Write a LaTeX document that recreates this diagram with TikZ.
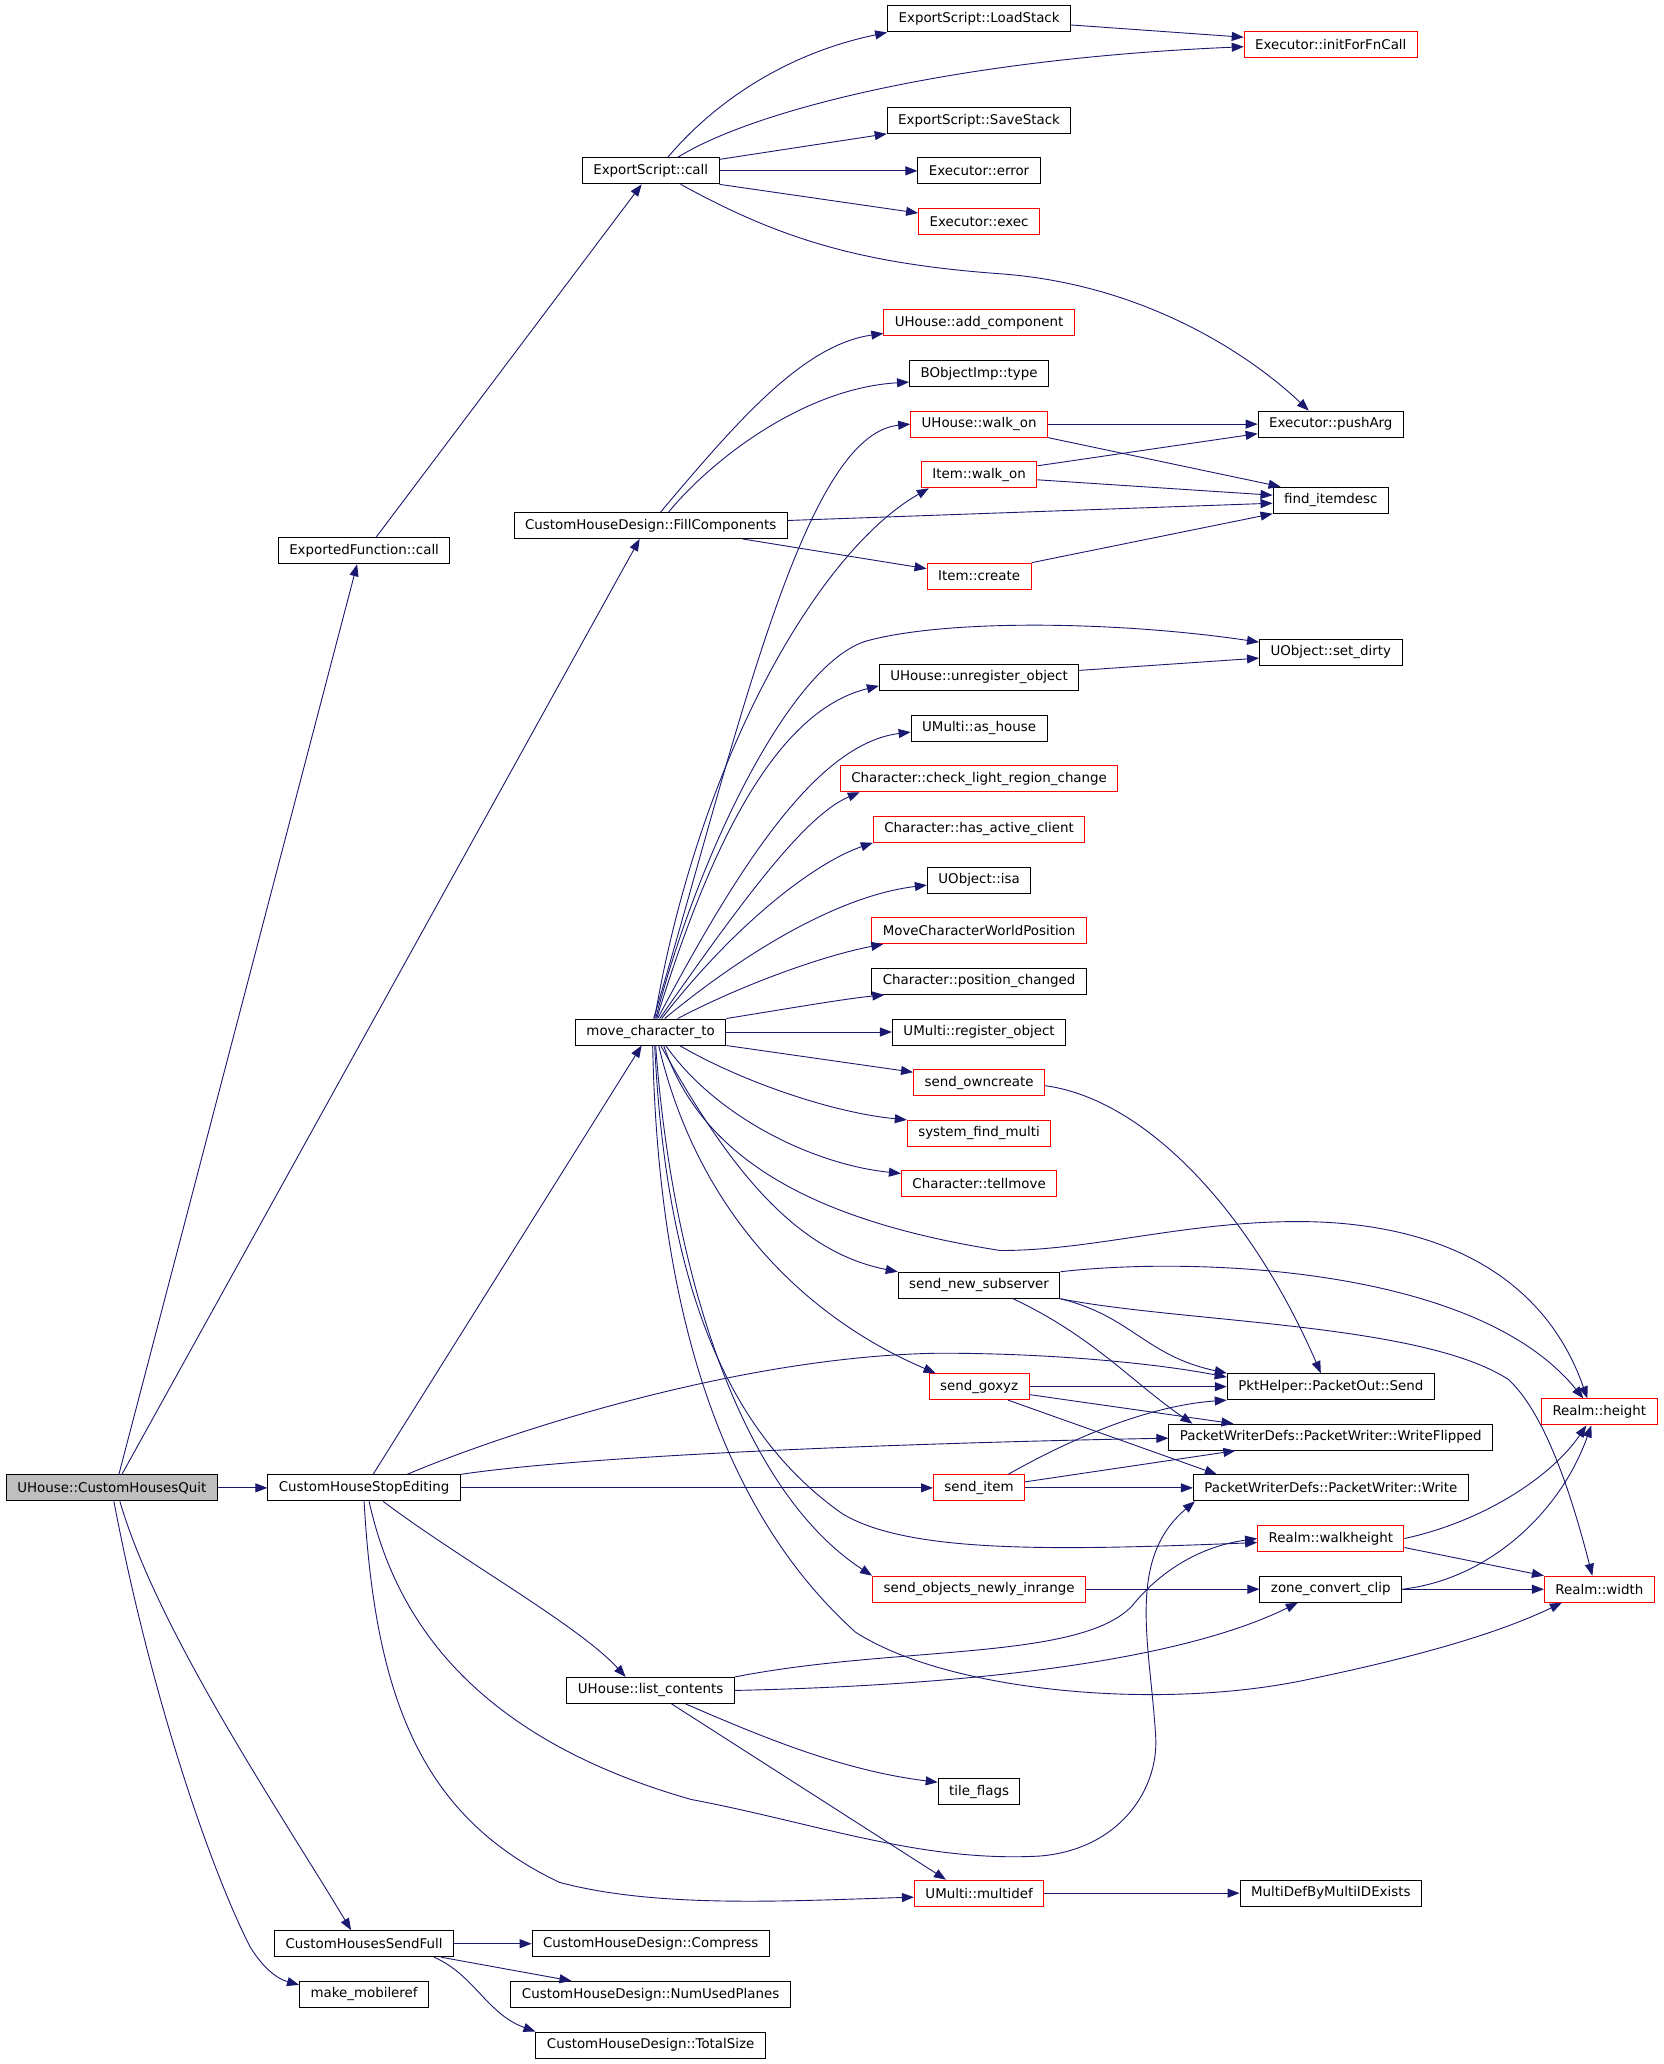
\documentclass[tikz,border=0pt]{standalone}
\usepackage{fontspec}
\setmainfont{DejaVu Sans}
\usetikzlibrary{arrows.meta}
\definecolor{edgeblue}{HTML}{191970}
\definecolor{rootgray}{HTML}{BFBFBF}
\tikzset{
  fn/.style={draw=black, line width=1pt, rectangle, minimum height=26pt, inner xsep=11pt, inner ysep=0pt, font=\fontsize{13.4}{16}\selectfont},
  fnred/.style={fn, draw=red},
  edge/.style={draw=edgeblue, line width=0.9pt, -{Triangle[length=12pt,width=9pt]}}
}
\begin{document}
\begin{tikzpicture}[x=1.3165pt, y=-1.3165pt]
\path[use as bounding box, fill=white] (0,0) rectangle (1264,1568); % canvas

% first and second columns
\node[fn, fill=rootgray] (quit) at (85,1130.3) {UHouse::CustomHousesQuit}; % root
\node[fn] (expfn) at (276.6,418.4) {ExportedFunction::call};
\node[fn] (stopedit) at (276.6,1130.3) {CustomHouseStopEditing};
\node[fn] (sendfull) at (276.6,1476.6) {CustomHousesSendFull};
\node[fn] (mobileref) at (276.6,1515.1) {make\_mobileref};

% third column
\node[fn] (escall) at (494.3,129.8) {ExportScript::call};
\node[fn] (fillcomp) at (494.3,399.2) {CustomHouseDesign::FillComponents};
\node[fn] (mct) at (494.3,784) {move\_character\_to};
\node[fn] (listc) at (494.3,1284.2) {UHouse::list\_contents};
\node[fn] (compress) at (494.3,1476.6) {CustomHouseDesign::Compress};
\node[fn] (numplanes) at (494.3,1515.1) {CustomHouseDesign::NumUsedPlanes};
\node[fn] (totalsize) at (494.3,1553.6) {CustomHouseDesign::TotalSize};

% fourth column
\node[fn] (loadstack) at (743.8,14.4) {ExportScript::LoadStack};
\node[fn] (savestack) at (743.8,91.4) {ExportScript::SaveStack};
\node[fn] (exerror) at (743.8,129.8) {Executor::error};
\node[fnred] (exexec) at (743.8,168.3) {Executor::exec};
\node[fnred] (addcomp) at (743.8,245.3) {UHouse::add\_component};
\node[fn] (bobjtype) at (743.8,283.8) {BObjectImp::type};
\node[fnred] (hwalkon) at (743.8,322.2) {UHouse::walk\_on};
\node[fnred] (iwalkon) at (743.8,360.7) {Item::walk\_on};
\node[fnred] (icreate) at (743.8,437.7) {Item::create};
\node[fn] (unreg) at (743.8,514.6) {UHouse::unregister\_object};
\node[fn] (ashouse) at (743.8,553.1) {UMulti::as\_house};
\node[fnred] (checklight) at (743.8,591.6) {Character::check\_light\_region\_change};
\node[fnred] (hasclient) at (743.8,630) {Character::has\_active\_client};
\node[fn] (isa) at (743.8,668.6) {UObject::isa};
\node[fnred] (movepos) at (743.8,707) {MoveCharacterWorldPosition};
\node[fn] (poschanged) at (743.8,745.5) {Character::position\_changed};
\node[fn] (regobj) at (743.8,784) {UMulti::register\_object};
\node[fnred] (owncreate) at (743.8,822.5) {send\_owncreate};
\node[fnred] (findmulti) at (743.8,861) {system\_find\_multi};
\node[fnred] (tellmove) at (743.8,899.4) {Character::tellmove};
\node[fn] (subserver) at (743.8,976.4) {send\_new\_subserver};
\node[fnred] (goxyz) at (743.8,1053.4) {send\_goxyz};
\node[fnred] (senditem) at (743.8,1130.3) {send\_item};
\node[fnred] (newlyinrange) at (743.8,1207.3) {send\_objects\_newly\_inrange};
\node[fn] (tileflags) at (743.8,1361.2) {tile\_flags};
\node[fnred] (multidef) at (743.8,1438.2) {UMulti::multidef};

% fifth and sixth columns
\node[fnred] (initfn) at (1011,33.6) {Executor::initForFnCall};
\node[fn] (pusharg) at (1011,322.2) {Executor::pushArg};
\node[fn] (itemdesc) at (1011,380) {find\_itemdesc};
\node[fn] (setdirty) at (1011,495.4) {UObject::set\_dirty};
\node[fn] (pktsend) at (1011,1053.4) {PktHelper::PacketOut::Send};
\node[fn] (writeflipped) at (1011,1091.8) {PacketWriterDefs::PacketWriter::WriteFlipped};
\node[fn] (pwrite) at (1011,1130.3) {PacketWriterDefs::PacketWriter::Write};
\node[fnred] (walkheight) at (1011,1168.8) {Realm::walkheight};
\node[fn] (zoneclip) at (1011,1207.3) {zone\_convert\_clip};
\node[fn] (multiexists) at (1011,1438.2) {MultiDefByMultiIDExists};
\node[fnred] (rheight) at (1215,1072.6) {Realm::height};
\node[fnred] (rwidth) at (1215,1207.3) {Realm::width};

% calls of the root
\draw[edge] ([xshift=7pt]quit.north) -- ([xshift=-7pt]expfn.south);
\draw[edge] ([xshift=10pt]quit.north) -- ([xshift=-11pt]fillcomp.south);
\draw[edge] (quit.east) -- (stopedit.west);
\draw[edge] ([xshift=8pt]quit.south) .. controls (120,1240) and (215,1380) .. ([xshift=-13pt]sendfull.north);
\draw[edge] ([xshift=2pt]quit.south) .. controls (115,1290) and (160,1420) .. (190,1479) .. controls (200,1495) and (210,1503) .. ([yshift=-4pt]mobileref.north west);

% script calls
\draw[edge] ([xshift=12pt]expfn.north) -- ([xshift=-9pt]escall.south);
\draw[edge] ([xshift=17pt]escall.north) .. controls (545,75) and (600,40) .. (loadstack.south west);
\draw[edge] ([xshift=27pt]escall.north) .. controls (570,85) and (720,45) .. ([yshift=-2.5pt]initfn.west);
\draw[edge] ([yshift=-2pt]escall.north east) -- (savestack.south west);
\draw[edge] (escall.east) -- (exerror.west);
\draw[edge] (escall.south east) -- ([yshift=-5pt]exexec.north west);
\draw[edge] ([xshift=30pt]escall.south) .. controls (590,180) and (650,200) .. (760,208) .. controls (870,216) and (950,270) .. ([xshift=-22pt]pusharg.north);
\draw[edge] ([yshift=-6pt]loadstack.east) -- ([yshift=7pt]initfn.west);

% components
\draw[edge] ([xshift=10pt]fillcomp.north) .. controls (560,320) and (610,262) .. ([yshift=3pt]addcomp.south west);
\draw[edge] ([xshift=18pt]fillcomp.north) .. controls (540,350) and (610,295) .. ([yshift=5pt]bobjtype.south west);
\draw[edge] ([yshift=5pt]fillcomp.east) -- ([yshift=-3pt]itemdesc.west);
\draw[edge] ([xshift=92pt]fillcomp.south) -- ([yshift=-6pt]icreate.north west);
\draw[edge] (hwalkon.east) -- (pusharg.west);
\draw[edge] (hwalkon.south east) -- ([xshift=8pt]itemdesc.north west);
\draw[edge] ([yshift=9pt]iwalkon.east) -- ([yshift=4pt]pusharg.south west);
\draw[edge] ([yshift=-5pt]iwalkon.east) -- ([yshift=5pt]itemdesc.west);
\draw[edge] (icreate.north east) -- (itemdesc.south west);
\draw[edge] ([yshift=7pt]unreg.east) -- ([yshift=-6pt]setdirty.west);

% move_character_to, upwards
\draw[edge] ([xshift=3pt]mct.north) .. controls (560,560) and (610,330) .. (hwalkon.west);
\draw[edge] ([xshift=4pt]mct.north) .. controls (530,580) and (620,420) .. ([xshift=8pt]iwalkon.south west);
\draw[edge] ([xshift=5pt]mct.north) .. controls (530,650) and (600,505) .. (658,487) .. controls (720,470) and (850,472) .. ([yshift=10pt]setdirty.west);
\draw[edge] ([xshift=6pt]mct.north) .. controls (540,640) and (590,540) .. ([yshift=5pt]unreg.south west);
\draw[edge] ([xshift=7pt]mct.north) .. controls (560,660) and (620,565) .. ([yshift=-4pt]ashouse.west);
\draw[edge] ([xshift=9pt]mct.north) .. controls (560,690) and (610,620) .. ([xshift=20pt]checklight.south west);
\draw[edge] ([xshift=11pt]mct.north) .. controls (560,700) and (620,655) .. (hasclient.south west);
\draw[edge] ([xshift=14pt]mct.north) .. controls (570,720) and (640,680) .. ([yshift=-5pt]isa.west);
\draw[edge] ([xshift=27pt]mct.north) .. controls (570,745) and (630,725) .. ([xshift=12pt]movepos.south west);
\draw[edge] (mct.north east) .. controls (600,766) and (640,759) .. ([xshift=13pt]poschanged.south west);
\draw[edge] (mct.east) -- (regobj.west);

% move_character_to, downwards
\draw[edge] (mct.south east) -- ([yshift=-3pt]owncreate.north west);
\draw[edge] ([xshift=29pt]mct.south) .. controls (560,820) and (630,845) .. (findmulti.north west);
\draw[edge] ([xshift=15pt]mct.south) .. controls (545,850) and (620,885) .. ([yshift=-3pt]tellmove.north west);
\draw[edge] ([xshift=13pt]mct.south) .. controls (530,870) and (600,925) .. (760,950) .. controls (830,950) and (900,928) .. (986,928) .. controls (1080,928) and (1170,960) .. ([xshift=-12pt]rheight.north);
\draw[edge] ([xshift=10pt]mct.south) .. controls (550,880) and (600,950) .. (subserver.north west);
\draw[edge] ([xshift=8pt]mct.south) .. controls (530,920) and (610,1000) .. ([xshift=7pt]goxyz.north west);
\draw[edge] ([xshift=4pt]mct.south) .. controls (505,950) and (540,1080) .. (640,1150) .. controls (690,1180) and (800,1178) .. ([yshift=-4pt]walkheight.west);
\draw[edge] ([xshift=5pt]mct.south) .. controls (510,960) and (560,1130) .. (newlyinrange.north west);
\draw[edge] ([xshift=2pt]mct.south) .. controls (500,1000) and (550,1150) .. (650,1240) .. controls (720,1285) and (880,1300) .. (993,1276) .. controls (1080,1258) and (1140,1240) .. ([xshift=18pt]rwidth.south west);

% packets
\draw[edge] ([yshift=-3pt]owncreate.east) .. controls (870,835) and (950,920) .. ([xshift=-10pt]pktsend.north);
\draw[edge] (subserver.south east) .. controls (860,1000) and (870,1030) .. (pktsend.north west);
\draw[edge] ([xshift=34pt]subserver.south) .. controls (830,1015) and (860,1050) .. ([xshift=24pt]writeflipped.north west);
\draw[edge] (subserver.north east) .. controls (900,955) and (1120,960) .. ([xshift=-16pt]rheight.north);
\draw[edge] (subserver.south east) .. controls (900,1005) and (1080,1005) .. (1146,1048) .. controls (1175,1075) and (1195,1140) .. ([xshift=-7pt]rwidth.north);
\draw[edge] (goxyz.east) -- (pktsend.west);
\draw[edge] ([yshift=-8pt]goxyz.east) -- ([xshift=65pt]writeflipped.north west);
\draw[edge] ([xshift=29pt]goxyz.south) -- ([xshift=24pt]pwrite.north west);
\draw[edge] ([xshift=29pt]senditem.north) .. controls (810,1095) and (870,1068) .. (pktsend.south west);
\draw[edge] ([yshift=6pt]senditem.east) -- ([xshift=67pt]writeflipped.south west);
\draw[edge] (senditem.east) -- (pwrite.west);

% stop editing
\draw[edge] ([xshift=9pt]stopedit.north) -- ([xshift=-9pt]mct.south);
\draw[edge] ([xshift=43pt]stopedit.north) .. controls (380,1090) and (560,1030) .. (714,1028) .. controls (800,1028) and (880,1036) .. ([yshift=-4pt]pktsend.north west);
\draw[edge] (stopedit.north east) .. controls (450,1105) and (700,1096) .. ([yshift=-1pt]writeflipped.west);
\draw[edge] (stopedit.east) -- (senditem.west);
\draw[edge] ([xshift=19pt]stopedit.south) .. controls (350,1185) and (440,1235) .. ([xshift=-25pt]listc.north);
\draw[edge] ([xshift=5pt]stopedit.south) .. controls (300,1230) and (360,1320) .. (525,1367) .. controls (620,1385) and (700,1415) .. (790,1410) .. controls (850,1405) and (880,1360) .. (878,1320) .. controls (874,1250) and (855,1185) .. ([xshift=2pt]pwrite.south west);
\draw[edge] (stopedit.south) .. controls (285,1290) and (320,1380) .. (425,1430) .. controls (500,1450) and (600,1444) .. ([yshift=-4pt]multidef.west);

% list contents
\draw[edge] (listc.north east) .. controls (680,1250) and (820,1262) .. (860,1220) .. controls (880,1195) and (910,1175) .. (walkheight.west);
\draw[edge] (listc.east) .. controls (750,1280) and (900,1260) .. ([xshift=-33pt]zoneclip.south);
\draw[edge] ([xshift=35pt]listc.south) .. controls (580,1320) and (640,1345) .. ([yshift=-4pt]tileflags.north west);
\draw[edge] ([xshift=21pt]listc.south) -- ([xshift=32pt]multidef.north west);
\draw[edge] (newlyinrange.east) -- (zoneclip.west);
\draw[edge] (multidef.east) -- (multiexists.west);

% realm
\draw[edge] (walkheight.east) .. controls (1130,1155) and (1180,1120) .. ([xshift=-13pt]rheight.south);
\draw[edge] ([yshift=-9pt]walkheight.east) -- (rwidth.north west);
\draw[edge] (zoneclip.east) .. controls (1130,1200) and (1185,1150) .. ([xshift=-8pt]rheight.south);
\draw[edge] (zoneclip.east) -- (rwidth.west);

% send full
\draw[edge] (sendfull.east) -- (compress.west);
\draw[edge] ([xshift=-13pt]sendfull.south east) -- ([xshift=61pt]numplanes.north west);
\draw[edge] ([xshift=-20pt]sendfull.south east) .. controls (360,1500) and (370,1530) .. (totalsize.north west);

\end{tikzpicture}
\end{document}
